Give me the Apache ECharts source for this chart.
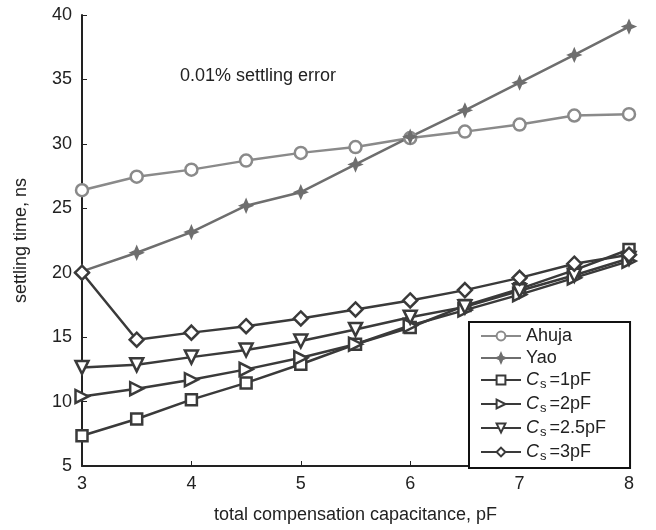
<!DOCTYPE html>
<html>
<head>
<meta charset="utf-8">
<script src="https://cdn.jsdelivr.net/npm/echarts@6/dist/echarts.min.js"></script>
<style>
  html, body { margin: 0; padding: 0; background: #fff; }
  #main { width: 656px; height: 530px; }
</style>
</head>
<body>
<div id="main"></div>
<script>
const capacitance = [3, 3.5, 4, 4.5, 5, 5.5, 6, 6.5, 7, 7.5, 8];
const ahuja = [26.4, 27.45, 28.0, 28.7, 29.3, 29.75, 30.45, 30.95, 31.5, 32.2, 32.3];
const yao = [20.1, 21.55, 23.15, 25.2, 26.25, 28.4, 30.55, 32.6, 34.75, 36.9, 39.1];
const cs1 = [7.35, 8.65, 10.15, 11.45, 12.9, 14.45, 15.75, 17.45, 18.75, 20.2, 21.8];
const cs2 = [10.4, 11.0, 11.7, 12.5, 13.4, 14.45, 15.9, 17.1, 18.3, 19.6, 20.9];
const cs25 = [12.65, 12.85, 13.45, 14.0, 14.7, 15.6, 16.55, 17.35, 18.6, 19.8, 21.1];
const cs3 = [20.0, 14.8, 15.35, 15.85, 16.45, 17.15, 17.85, 18.65, 19.6, 20.7, 21.4];

const font = "'Liberation Sans', Arial, Helvetica, sans-serif";
const light = '#8a8a8a';
const mid = '#6e6e6e';
const dark = '#3a3a3a';

function pairs(vals) {
  return capacitance.map((x, i) => [x, vals[i]]);
}

function makeSeries(name, vals, color, symbol, rotate, size, filled) {
  return {
    name: name,
    type: 'line',
    data: pairs(vals),
    symbol: symbol,
    symbolSize: size,
    symbolRotate: rotate,
    lineStyle: {color: color, width: 2.5},
    itemStyle: {
      color: filled ? color : '#fff',
      borderColor: color,
      borderWidth: 2.5
    },
    emphasis: {disabled: true},
    animation: false
  };
}

const star = 'path://M0,-10 L3,-3 L10,0 L3,3 L0,10 L-3,3 L-10,0 L-3,-3 Z';

let chart = echarts.init(document.getElementById('main'));
let option = {
  textStyle: {fontFamily: font},
  grid: {left: 82, right: 27, top: 15, bottom: 64},
  xAxis: {
    type: 'value',
    min: 3,
    max: 8,
    interval: 1,
    name: 'total compensation capacitance, pF',
    nameLocation: 'middle',
    nameGap: 40,
    nameTextStyle: {fontSize: 18, color: '#222', fontFamily: font},
    axisLine: {lineStyle: {color: '#222', width: 2}},
    axisTick: {inside: true, length: 5, lineStyle: {color: '#222'}},
    axisLabel: {fontSize: 18, color: '#222', margin: 9, fontFamily: font},
    splitLine: {show: false}
  },
  yAxis: {
    type: 'value',
    min: 5,
    max: 40,
    interval: 5,
    name: 'settling time, ns',
    nameLocation: 'middle',
    nameGap: 52,
    nameTextStyle: {fontSize: 18, color: '#222', fontFamily: font},
    axisLine: {show: true, lineStyle: {color: '#222', width: 2}},
    axisTick: {show: true, inside: true, length: 5, lineStyle: {color: '#222'}},
    axisLabel: {fontSize: 18, color: '#222', margin: 10, fontFamily: font},
    splitLine: {show: false}
  },
  legend: {
    orient: 'vertical',
    left: 469,
    top: 322,
    padding: [5, 24, 5, 11],
    itemGap: 4,
    itemWidth: 40,
    itemHeight: 11,
    borderColor: '#111',
    borderWidth: 2,
    backgroundColor: '#fff',
    data: ['Ahuja', 'Yao', 'cs1', 'cs2', 'cs25', 'cs3'],
    formatter: function (name) {
      const labels = {
        Ahuja: 'Ahuja',
        Yao: 'Yao',
        cs1: '{i|C}{s|s}=1pF',
        cs2: '{i|C}{s|s}=2pF',
        cs25: '{i|C}{s|s}=2.5pF',
        cs3: '{i|C}{s|s}=3pF'
      };
      return labels[name];
    },
    textStyle: {
      fontSize: 18,
      color: '#222',
      fontFamily: font,
      rich: {
        i: {fontSize: 18, fontStyle: 'italic', color: '#222', fontFamily: font},
        s: {fontSize: 13, color: '#222', fontFamily: font, padding: [9, 3, 0, 1]}
      }
    }
  },
  graphic: [{
    type: 'text',
    left: 180,
    top: 67,
    style: {text: '0.01% settling error', font: '18px ' + font, fill: '#222'}
  }],
  series: [
    makeSeries('Ahuja', ahuja, light, 'circle', 0, 12, false),
    makeSeries('Yao', yao, mid, star, 0, 10, true),
    makeSeries('cs1', cs1, dark, 'rect', 0, 11, false),
    makeSeries('cs2', cs2, dark, 'triangle', -90, 13, false),
    makeSeries('cs25', cs25, dark, 'triangle', 180, 13, false),
    makeSeries('cs3', cs3, dark, 'diamond', 0, 14, false)
  ]
};
chart.setOption(option);
</script>
</body>
</html>
